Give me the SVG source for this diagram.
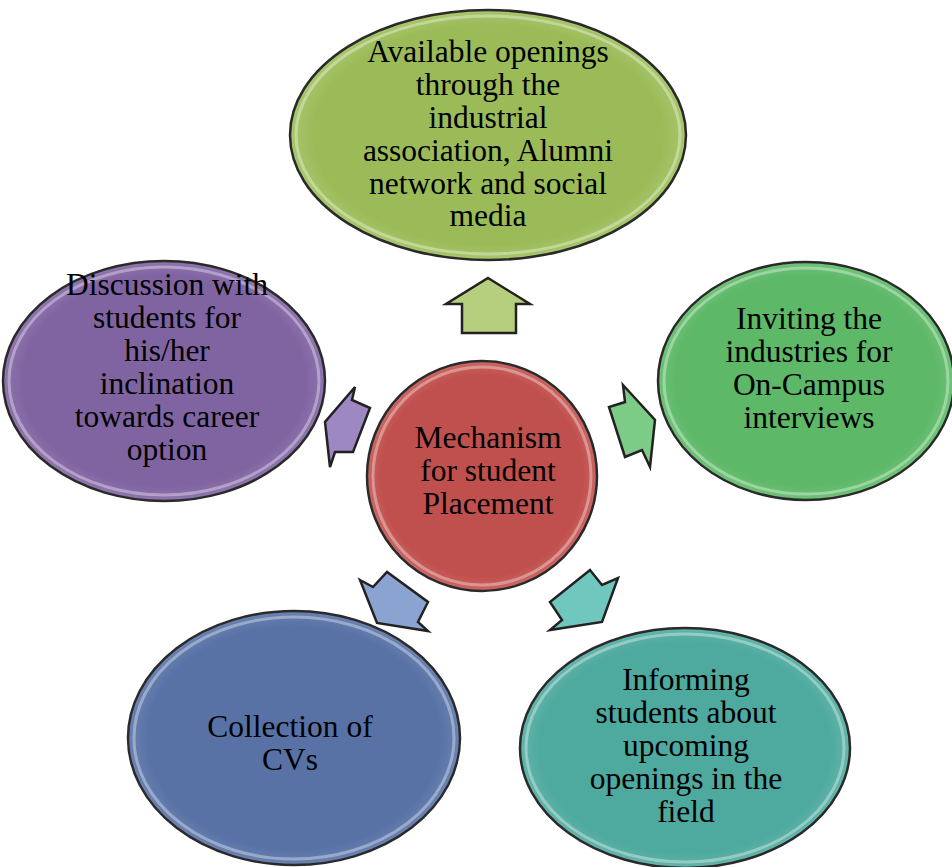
<svg xmlns="http://www.w3.org/2000/svg" width="952" height="867" viewBox="0 0 952 867">
<style>
.t{font-family:"Liberation Serif","Times New Roman",serif;font-size:31.5px;fill:#000;text-anchor:middle}
.e{stroke:#2a2a2a;stroke-width:2.5}
.rim{fill:none;stroke:#fff;stroke-opacity:0.35;stroke-width:3}
.a{stroke:#222;stroke-width:2.5;stroke-linejoin:miter}
</style>
<defs>
<radialGradient id="gOl" cx="0.5" cy="0.5" r="0.55"><stop offset="0.8" stop-color="#9bbb59"/><stop offset="1" stop-color="#b3cf7a"/></radialGradient>
<radialGradient id="gGr" cx="0.5" cy="0.5" r="0.55"><stop offset="0.8" stop-color="#5db867"/><stop offset="1" stop-color="#7fcb87"/></radialGradient>
<radialGradient id="gPu" cx="0.5" cy="0.5" r="0.55"><stop offset="0.8" stop-color="#8064a2"/><stop offset="1" stop-color="#9c84b8"/></radialGradient>
<radialGradient id="gBl" cx="0.5" cy="0.5" r="0.55"><stop offset="0.8" stop-color="#5872a6"/><stop offset="1" stop-color="#7a90bb"/></radialGradient>
<radialGradient id="gTe" cx="0.5" cy="0.5" r="0.55"><stop offset="0.8" stop-color="#4ea99e"/><stop offset="1" stop-color="#74c0b6"/></radialGradient>
<radialGradient id="gRe" cx="0.5" cy="0.5" r="0.55"><stop offset="0.8" stop-color="#c0504d"/><stop offset="1" stop-color="#d47a77"/></radialGradient>
</defs>

<g id="connectors">
<polygon class="a" fill="#b5cf7f" points="488,278 530,304 516,304 516,333 462,333 462,304 446,304"/>
<polygon class="a" fill="#7ccc87" points="623,385 655,420 650,467 642,450 625,457 609,407 625,402"/>
<polygon class="a" fill="#9d88c4" points="355,387 352,400 370,408 353,452 335,452 330,467 325,422"/>
<polygon class="a" fill="#8aa3d0" points="360,580 373,587 387,572 428,602 418,622 428,631 377,623"/>
<polygon class="a" fill="#6fc7bd" points="590,570 602,585 618,578 602,622 550,630 562,620 550,602"/>
</g>

<g id="top">
<ellipse class="e" cx="488" cy="135" rx="198" ry="125" fill="url(#gOl)"/>
<ellipse class="rim" cx="488" cy="135" rx="192" ry="119"/>
<text class="t" x="488" y="62">Available openings</text>
<text class="t" x="488" y="95">through the</text>
<text class="t" x="488" y="128">industrial</text>
<text class="t" x="488" y="161">association, Alumni</text>
<text class="t" x="488" y="194">network and social</text>
<text class="t" x="488" y="226">media</text>
</g>

<g id="right">
<ellipse class="e" cx="806" cy="381" rx="148" ry="119" fill="url(#gGr)"/>
<ellipse class="rim" cx="806" cy="381" rx="142" ry="113"/>
<text class="t" x="809" y="329">Inviting the</text>
<text class="t" x="809" y="362">industries for</text>
<text class="t" x="809" y="395">On-Campus</text>
<text class="t" x="809" y="428">interviews</text>
</g>

<g id="left">
<ellipse class="e" cx="164" cy="381" rx="161" ry="120" fill="url(#gPu)"/>
<ellipse class="rim" cx="164" cy="381" rx="155" ry="114"/>
<text class="t" x="167" y="295">Discussion with</text>
<text class="t" x="167" y="328">students for</text>
<text class="t" x="167" y="361">his/her</text>
<text class="t" x="167" y="394">inclination</text>
<text class="t" x="167" y="427">towards career</text>
<text class="t" x="167" y="460">option</text>
</g>

<g id="bottomLeft">
<ellipse class="e" cx="294" cy="738" rx="166" ry="127" fill="url(#gBl)"/>
<ellipse class="rim" cx="294" cy="738" rx="160" ry="121"/>
<text class="t" x="290" y="737">Collection of</text>
<text class="t" x="290" y="770">CVs</text>
</g>

<g id="bottomRight">
<ellipse class="e" cx="685" cy="748" rx="165" ry="120" fill="url(#gTe)"/>
<ellipse class="rim" cx="685" cy="748" rx="159" ry="114"/>
<text class="t" x="686" y="690">Informing</text>
<text class="t" x="686" y="723">students about</text>
<text class="t" x="686" y="756">upcoming</text>
<text class="t" x="686" y="789">openings in the</text>
<text class="t" x="686" y="822">field</text>
</g>

<g id="center">
<circle class="e" cx="482" cy="476" r="115" fill="url(#gRe)"/>
<circle class="rim" cx="482" cy="476" r="109"/>
<text class="t" x="488" y="448">Mechanism</text>
<text class="t" x="488" y="481">for student</text>
<text class="t" x="488" y="514">Placement</text>
</g>
</svg>
